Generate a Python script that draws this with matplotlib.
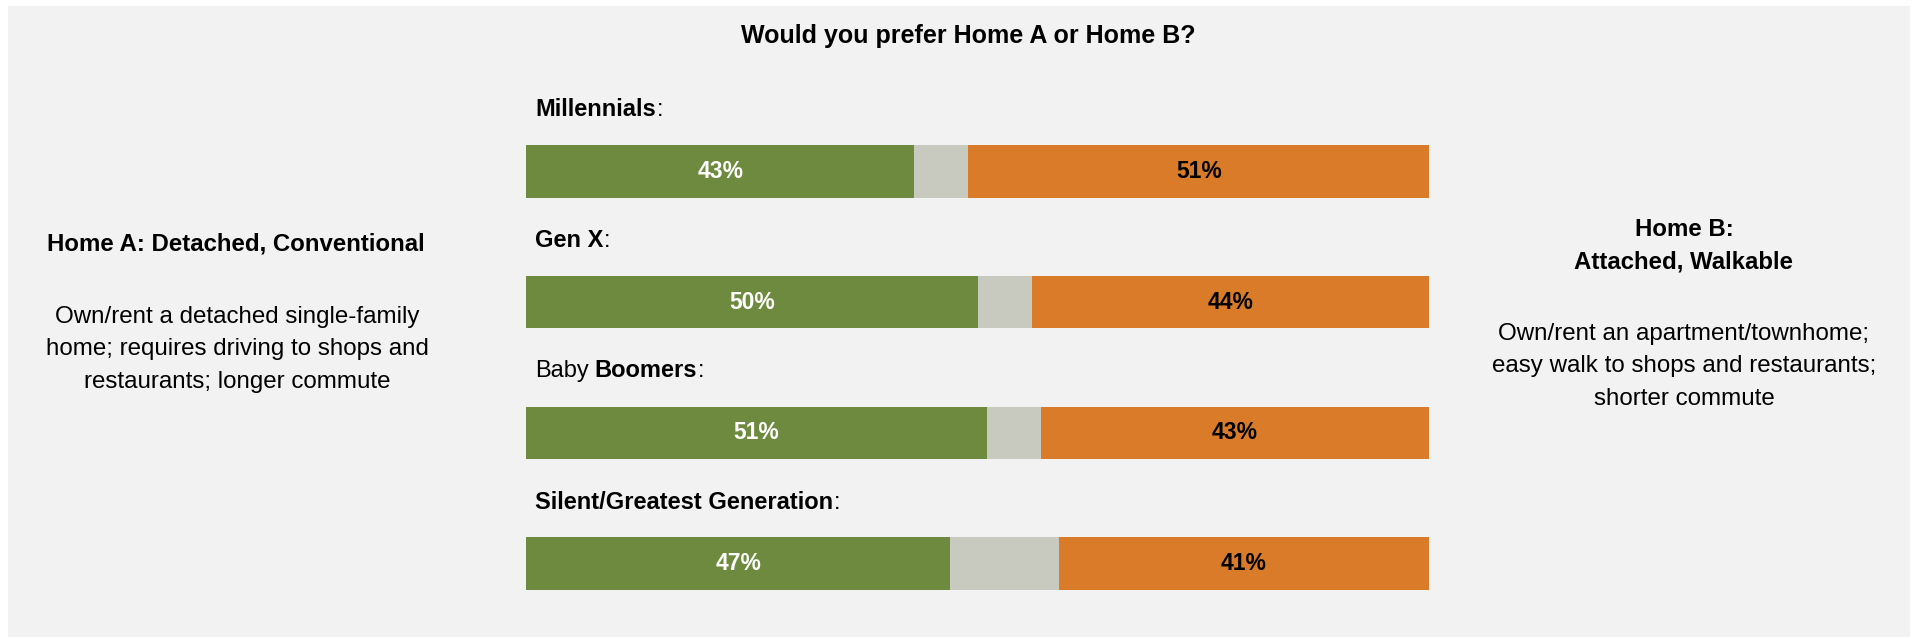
import matplotlib
matplotlib.use('Agg')
import matplotlib.pyplot as plt
from matplotlib import font_manager
from matplotlib.patches import Rectangle

# survey data
groups = ['Millennials', 'Gen X', 'Baby Boomers', 'Silent/Greatest Generation']
home_a = [43, 50, 51, 47]
unsure = [6, 6, 6, 12]
home_b = [51, 44, 43, 41]
# part of the group name that is not set in bold
plain_prefix = {'Baby Boomers': 'Baby'}

GREEN = '#6e8a3e'
GREY = '#c8c9bf'
ORANGE = '#d97b29'
PANEL = '#f2f2f2'

names = {f.name for f in font_manager.fontManager.ttflist}
FONT = 'Liberation Sans' if 'Liberation Sans' in names else 'DejaVu Sans'

W, H = 1915, 639
fig = plt.figure(figsize=(W / 100, H / 100), dpi=100, facecolor='white')

def fx(px):
    return px / W

def fy(py):
    return 1 - py / H

# grey panel
fig.add_artist(Rectangle((fx(8), fy(637)), fx(1910) - fx(8), fy(6) - fy(637),
                         transform=fig.transFigure, facecolor=PANEL,
                         edgecolor='none', zorder=0))

# bar axes
ax = fig.add_axes([fx(526), fy(629), fx(1429) - fx(526), fy(106) - fy(629)])
ax.set_xlim(0, 100)
ax.set_ylim(len(groups) - 0.5, -0.5)
ax.axis('off')

ypos = list(range(len(groups)))
left_b = [a + u for a, u in zip(home_a, unsure)]
bh = 0.4
ax.barh(ypos, home_a, height=bh, color=GREEN)
ax.barh(ypos, unsure, left=home_a, height=bh, color=GREY)
ax.barh(ypos, home_b, left=left_b, height=bh, color=ORANGE)

for i in ypos:
    ax.text(home_a[i] / 2, i, f'{home_a[i]}%', ha='center', va='center',
            color='white', fontsize=16.5, fontweight='bold', family=FONT)
    ax.text(left_b[i] + home_b[i] / 2, i, f'{home_b[i]}%', ha='center', va='center',
            color='black', fontsize=16.5, fontweight='bold', family=FONT)

    # group label above the bar, mixed weights
    name = groups[i]
    parts = []
    if name in plain_prefix:
        pre = plain_prefix[name]
        parts.append((pre, 'normal', 0))
        parts.append((name[len(pre):].strip(), 'bold', 4))
    else:
        parts.append((name, 'bold', 0))
    parts.append((':', 'normal', 0.5))

    prev = None
    for s, w, off in parts:
        if prev is None:
            prev = ax.text(1.0, i - 0.47, s, ha='left', va='center',
                           fontsize=17, fontweight=w, family=FONT)
        else:
            prev = ax.annotate(s, xy=(1, 0), xycoords=prev, xytext=(off, 0),
                               textcoords='offset points', ha='left', va='bottom',
                               fontsize=17, fontweight=w, family=FONT)

# title
fig.text(fx(968), fy(36), 'Would you prefer Home A or Home B?', ha='center', va='center',
         fontsize=18, fontweight='bold', family=FONT)

# side descriptions
fig.text(fx(236), fy(244), 'Home A: Detached, Conventional', ha='center', va='center',
         fontsize=17.3, fontweight='bold', family=FONT)
fig.text(fx(237), fy(349.5), 'Own/rent a detached single-family\nhome; requires driving to shops and\nrestaurants; longer commute',
         ha='center', va='center', fontsize=17.4, family=FONT, linespacing=1.6)

fig.text(fx(1684), fy(246), 'Home B:\nAttached, Walkable', ha='center', va='center',
         fontsize=17.3, fontweight='bold', family=FONT, linespacing=1.5)
fig.text(fx(1684), fy(366.5), 'Own/rent an apartment/townhome;\neasy walk to shops and restaurants;\nshorter commute',
         ha='center', va='center', fontsize=17.4, family=FONT, linespacing=1.6)

fig.savefig('out.png', dpi=100, facecolor='white')
